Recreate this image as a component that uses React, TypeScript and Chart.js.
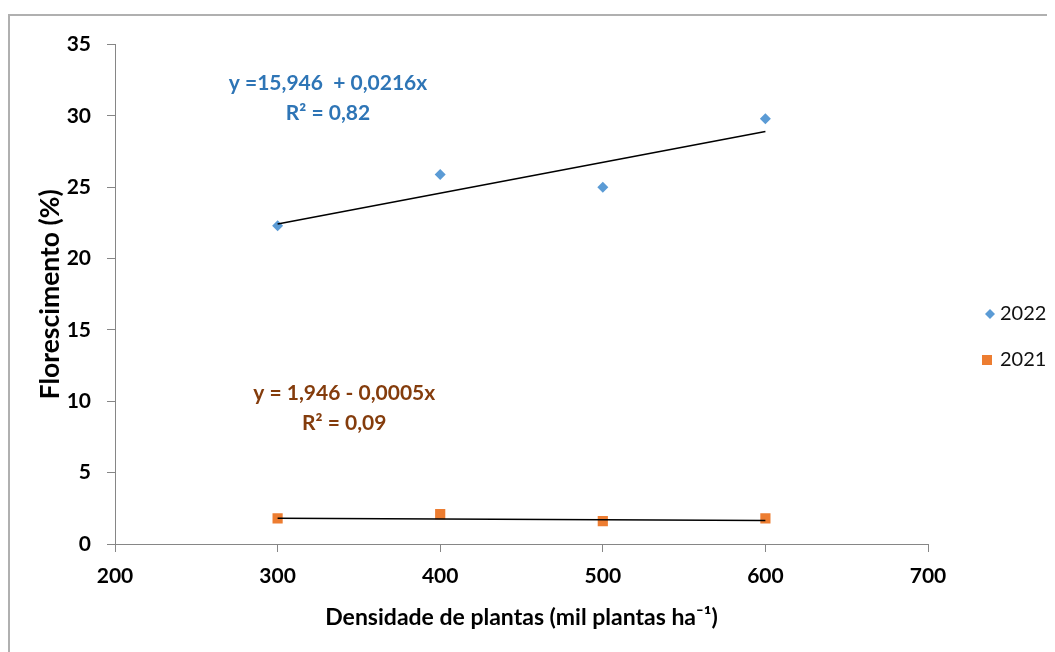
import React, { useEffect, useRef } from 'react';
import { Chart, registerables } from 'chart.js';

Chart.register(...registerables);

// ---- data ----
const densities = [300, 400, 500, 600];
const flor2022 = [22.3, 25.9, 25.0, 29.8];
const flor2021 = [1.8, 2.1, 1.6, 1.8];
const trendX = [300, 600];
const trend2022 = [22.43, 28.91];
const trend2021 = [1.8, 1.65];
const xMin = 200, xMax = 700, xStep = 100;
const yMin = 0, yMax = 35, yStep = 5;
const seriesNames = ['2022', '2021'];
const eq2022 = ['y =15,946  + 0,0216x', 'R² = 0,82'];
const eq2021 = ['y = 1,946 - 0,0005x', 'R² = 0,09'];
const eqPos2022 = [{ x: 331, y: 32.3 }, { x: 331, y: 30.2 }];
const eqPos2021 = [{ x: 341, y: 10.6 }, { x: 341, y: 8.45 }];

const BLUE = '#5B9BD5';
const ORANGE = '#ED7D31';
const FONT = 'Lato';

const overlay = {
  id: 'overlay',
  afterDraw(chart: any) {
    const { ctx, scales, chartArea } = chart;
    const x = scales.x, y = scales.y;
    ctx.save();
    ctx.font = `bold 21px ${FONT}`;
    ctx.textAlign = 'center';
    ctx.textBaseline = 'middle';
    ctx.fillStyle = '#2E75B6';
    eq2022.forEach((t, i) => ctx.fillText(t, x.getPixelForValue(eqPos2022[i].x), y.getPixelForValue(eqPos2022[i].y)));
    ctx.fillStyle = '#843C0C';
    eq2021.forEach((t, i) => ctx.fillText(t, x.getPixelForValue(eqPos2021[i].x), y.getPixelForValue(eqPos2021[i].y)));

    // legend
    const lx = chartArea.right + 62;
    const ly1 = 298, ly2 = 344;
    ctx.fillStyle = BLUE;
    ctx.beginPath();
    ctx.moveTo(lx, ly1 - 5);
    ctx.lineTo(lx + 5, ly1);
    ctx.lineTo(lx, ly1 + 5);
    ctx.lineTo(lx - 5, ly1);
    ctx.closePath();
    ctx.fill();
    ctx.fillStyle = ORANGE;
    ctx.fillRect(lx - 8, ly2 - 5, 10, 10);
    ctx.fillStyle = '#111';
    ctx.font = `20px ${FONT}`;
    ctx.textAlign = 'left';
    ctx.fillText(seriesNames[0], lx + 10, ly1);
    ctx.fillText(seriesNames[1], lx + 10, ly2);
    ctx.restore();
  },
};

export default function App() {
  const ref = useRef<HTMLCanvasElement>(null);
  useEffect(() => {
    if (!ref.current) return;
    const chart = new Chart(ref.current, {
      type: 'scatter',
      data: {
        datasets: [
          {
            label: 'trend2022',
            data: trendX.map((v, i) => ({ x: v, y: trend2022[i] })),
            showLine: true,
            borderColor: '#000',
            borderWidth: 1.5,
            pointRadius: 0,
            order: 0,
          },
          {
            label: 'trend2021',
            data: trendX.map((v, i) => ({ x: v, y: trend2021[i] })),
            showLine: true,
            borderColor: '#000',
            borderWidth: 1.5,
            pointRadius: 0,
            order: 0,
          },
          {
            label: seriesNames[0],
            data: densities.map((v, i) => ({ x: v, y: flor2022[i] })),
            pointStyle: 'rectRot',
            pointRadius: 5.5,
            backgroundColor: BLUE,
            borderColor: BLUE,
            borderWidth: 0,
            order: 1,
          },
          {
            label: seriesNames[1],
            data: densities.map((v, i) => ({ x: v, y: flor2021[i] })),
            pointStyle: 'rect',
            pointRadius: 7.2,
            backgroundColor: ORANGE,
            borderColor: ORANGE,
            borderWidth: 0,
            order: 1,
          },
        ],
      },
      options: {
        animation: false,
        responsive: false,
        devicePixelRatio: 1,
        layout: { padding: { top: 25.5, right: 127, left: 0, bottom: 0 } },
        plugins: { legend: { display: false }, tooltip: { enabled: false } },
        scales: {
          x: {
            type: 'linear',
            min: xMin,
            max: xMax,
            afterFit: (s: any) => { s.height = 108; },
            ticks: { stepSize: xStep, color: '#000', padding: 12, font: { family: FONT, size: 21, weight: 'bold' } },
            grid: { display: true, drawOnChartArea: false, drawTicks: true, tickLength: 8, color: '#868686' },
            border: { color: '#868686', width: 1 },
            title: {
              display: true,
              text: 'Densidade de plantas (mil plantas ha⁻¹)',
              color: '#000',
              font: { family: FONT, size: 23, weight: 'bold' },
              padding: { top: 0, bottom: 21 },
            },
          },
          y: {
            type: 'linear',
            min: yMin,
            max: yMax,
            afterFit: (s: any) => { s.width = 105; },
            ticks: { stepSize: yStep, color: '#000', padding: 16, font: { family: FONT, size: 21, weight: 'bold' } },
            grid: { display: true, drawOnChartArea: false, drawTicks: true, tickLength: 8, color: '#868686' },
            border: { color: '#868686', width: 1 },
            title: {
              display: true,
              text: 'Florescimento (%)',
              color: '#000',
              font: { family: FONT, size: 26.5, weight: 'bold' },
              padding: { top: 25, bottom: 0 },
            },
          },
        },
      },
      plugins: [overlay],
    } as any);
    return () => chart.destroy();
  }, []);
  return (
    <div
      style={{
        marginTop: 6,
        borderTop: '2px solid #b0b0b0',
        borderLeft: '2px solid #b0b0b0',
        width: 1047,
        height: 638,
        boxSizing: 'border-box',
        overflow: 'hidden',
      }}
    >
      <canvas ref={ref} width={1045} height={636} style={{ display: 'block' }} />
    </div>
  );
}
